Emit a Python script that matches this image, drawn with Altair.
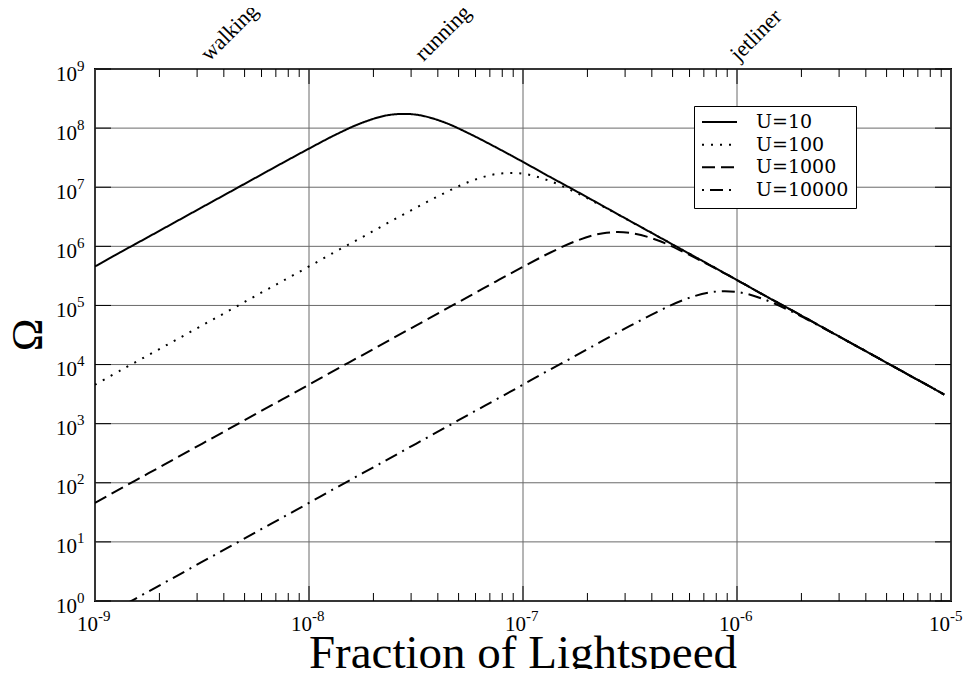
import altair as alt
import pandas as pd

# ---------------- data ----------------
x_grid = [1e-9, 1.33e-9, 1.78e-9, 2.37e-9, 3.16e-9, 4.22e-9, 5.62e-9, 7.5e-9,
          1e-8, 1.33e-8, 1.78e-8, 2.37e-8, 3.16e-8, 4.22e-8, 5.62e-8, 7.5e-8,
          1e-7, 1.33e-7, 1.78e-7, 2.37e-7, 3.16e-7, 4.22e-7, 5.62e-7, 7.5e-7,
          1e-6, 1.33e-6, 1.78e-6, 2.37e-6, 3.16e-6, 4.22e-6, 5.62e-6, 7.5e-6,
          9.3e-6]

omega_u10 = [4.57e5, 8.13e5, 1.45e6, 2.57e6, 4.57e6, 8.13e6, 1.44e7, 2.56e7,
             4.50e7, 7.72e7, 1.24e8, 1.67e8, 1.69e8, 1.28e8, 8.04e7, 4.70e7,
             2.68e7, 1.51e7, 8.51e6, 4.79e6, 2.69e6, 1.51e6, 8.51e5, 4.79e5,
             2.69e5, 1.51e5, 8.51e4, 4.79e4, 2.69e4, 1.51e4, 8.51e3, 4.79e3,
             3.11e3]
omega_u100 = [4.57e3, 8.13e3, 1.45e4, 2.57e4, 4.57e4, 8.13e4, 1.45e5, 2.57e5,
              4.57e5, 8.13e5, 1.44e6, 2.56e6, 4.50e6, 7.72e6, 1.24e7, 1.67e7,
              1.69e7, 1.28e7, 8.04e6, 4.70e6, 2.68e6, 1.51e6, 8.51e5, 4.79e5,
              2.69e5, 1.51e5, 8.51e4, 4.79e4, 2.69e4, 1.51e4, 8.51e3, 4.79e3,
              3.11e3]
omega_u1000 = [45.7, 81.3, 145, 257, 457, 813, 1450, 2570,
               4570, 8130, 1.45e4, 2.57e4, 4.57e4, 8.13e4, 1.44e5, 2.56e5,
               4.50e5, 7.72e5, 1.24e6, 1.67e6, 1.69e6, 1.28e6, 8.04e5, 4.70e5,
               2.68e5, 1.51e5, 8.51e4, 4.79e4, 2.69e4, 1.51e4, 8.51e3, 4.79e3,
               3.11e3]
omega_u10000 = [0.457, 0.813, 1.45, 2.57, 4.57, 8.13, 14.5, 25.7,
                45.7, 81.3, 145, 257, 457, 813, 1450, 2570,
                4570, 8130, 1.44e4, 2.56e4, 4.50e4, 7.72e4, 1.24e5, 1.67e5,
                1.69e5, 1.28e5, 8.04e4, 4.70e4, 2.68e4, 1.51e4, 8.51e3, 4.79e3,
                3.11e3]

series_names = ["U=10", "U=100", "U=1000", "U=10000"]
series_dash = [[1, 0], [2, 7], [13, 6], [2, 6, 13, 6]]

x_major = [1e-9, 1e-8, 1e-7, 1e-6, 1e-5]
x_major_exp = ["-9", "-8", "-7", "-6", "-5"]
x_inner_major = [1e-8, 1e-7, 1e-6]
minor_mult = [2, 3, 4, 5, 6, 7, 8, 9]
x_minor = [m * d for d in x_major[:-1] for m in minor_mult]

y_major = [1, 1e1, 1e2, 1e3, 1e4, 1e5, 1e6, 1e7, 1e8, 1e9]
y_major_exp = ["0", "1", "2", "3", "4", "5", "6", "7", "8", "9"]

speed_labels = ["walking", "running", "jetliner"]
speed_values = [3.42e-9, 3.43e-8, 1.02e-6]

x_title = "Fraction of Lightspeed"
y_title = "Ω"

# ---------------- tables ----------------
rows = []
for name, vals in zip(series_names, [omega_u10, omega_u100, omega_u1000, omega_u10000]):
    for xv, yv in zip(x_grid, vals):
        rows.append({"x": xv, "omega": yv, "series": name})
df = pd.DataFrame(rows)

df_xmaj = pd.DataFrame({"x": x_major, "e": x_major_exp})
df_xlab_main = df_xmaj.iloc[:-1]
df_xlab_last = df_xmaj.iloc[-1:]
df_xin = pd.DataFrame({"x": x_inner_major})
df_xmin = pd.DataFrame({"x": x_minor})
df_ymaj = pd.DataFrame({"y": y_major, "e": y_major_exp})
df_speed = pd.DataFrame({"x": speed_values, "label": speed_labels})
df_xt = pd.DataFrame({"t": [x_title]})
df_yt = pd.DataFrame({"t": [y_title]})

W, H = 856, 532
FONT = "Liberation Serif"
GRID = "#6a6a6a"
xscale = alt.Scale(type="log", domain=[1e-9, 1e-5], nice=False)
yscale = alt.Scale(type="log", domain=[1, 1e9], nice=False)

def X(f="x"):
    return alt.X(f"{f}:Q", scale=xscale, axis=None)

def Y(f="y"):
    return alt.Y(f"{f}:Q", scale=yscale, axis=None)

legend = alt.Legend(orient="none", legendX=599, legendY=37, title=None,
                    symbolType="stroke", symbolSize=1225, symbolStrokeWidth=2,
                    symbolStrokeColor="black", labelFont="DejaVu Serif",
                    labelFontSize=19, labelColor="black", labelOffset=18,
                    clipHeight=18, rowPadding=3.67, padding=7,
                    strokeColor="black", fillColor="white")

grid_x = alt.Chart(df_xmaj).mark_rule(color=GRID, strokeWidth=1).encode(
    x=X(), y=alt.value(0), y2=alt.value(H))
grid_y = alt.Chart(df_ymaj).mark_rule(color=GRID, strokeWidth=1).encode(
    y=Y(), x=alt.value(0), x2=alt.value(W))

lines = alt.Chart(df).mark_line(clip=True, strokeWidth=2, color="black",
                                interpolate="catmull-rom").encode(
    x=X("x"),
    y=Y("omega"),
    strokeDash=alt.StrokeDash("series:N",
                              scale=alt.Scale(domain=series_names, range=series_dash),
                              legend=legend),
    detail="series:N",
)

def xr(data, y0, y1):
    return alt.Chart(data).mark_rule(color="black", strokeWidth=1).encode(
        x=X(), y=alt.value(y0), y2=alt.value(y1))

def yr(x0, x1):
    return alt.Chart(df_ymaj).mark_rule(color="black", strokeWidth=1).encode(
        y=Y(), x=alt.value(x0), x2=alt.value(x1))

ticks = [xr(df_xmin, H - 8, H), xr(df_xmin, 0, 8),
         xr(df_xin, H - 15, H), xr(df_xin, 0, 15),
         yr(0, 16), yr(W - 16, W)]

def xlabels(data, dx):
    base = alt.Chart(data).mark_text(align="right", baseline="alphabetic", font=FONT,
                                     fontSize=21, dx=dx, color="black").encode(
        x=X(), y=alt.value(H + 30), text=alt.value("10"))
    exp = alt.Chart(data).mark_text(align="left", baseline="alphabetic", font=FONT,
                                    fontSize=15, dx=dx, color="black").encode(
        x=X(), y=alt.value(H + 19.5), text="e:N")
    return [base, exp]

xlabs = xlabels(df_xlab_main, 3) + xlabels(df_xlab_last, -1)

ylab_base = alt.Chart(df_ymaj).mark_text(align="right", baseline="alphabetic",
                                         font=FONT, fontSize=21, dy=11.6, color="black").encode(
    y=Y(), x=alt.value(-18), text=alt.value("10"))
ylab_exp = alt.Chart(df_ymaj).mark_text(align="left", baseline="alphabetic",
                                        font=FONT, fontSize=15, dy=1.6, color="black").encode(
    y=Y(), x=alt.value(-18), text="e:N")

speed = alt.Chart(df_speed).mark_text(angle=315, align="left", baseline="alphabetic",
                                      font=FONT, fontSize=22, color="black").encode(
    x=X(), y=alt.value(-7), text="label:N")

xtitle = alt.Chart(df_xt).mark_text(align="center", baseline="alphabetic", font=FONT,
                                    fontSize=47, color="black").encode(
    x=alt.value(W / 2), y=alt.value(H + 67), text="t:N")
ytitle = alt.Chart(df_yt).mark_text(align="center", baseline="middle", font=FONT,
                                    fontSize=44, angle=270, color="black").encode(
    x=alt.value(-66), y=alt.value(H / 2), text="t:N")

chart = alt.layer(grid_x, grid_y, lines, *ticks, *xlabs, ylab_base,
                  ylab_exp, speed, xtitle, ytitle).properties(
    width=W, height=H,
    autosize=alt.AutoSizeParams(type="none"),
    padding={"left": 87, "top": 61, "right": 12, "bottom": 68},
).configure(font=FONT).configure_view(stroke="black", strokeWidth=2)

chart.save("out.html", embed_options={"renderer": "svg", "actions": False})
